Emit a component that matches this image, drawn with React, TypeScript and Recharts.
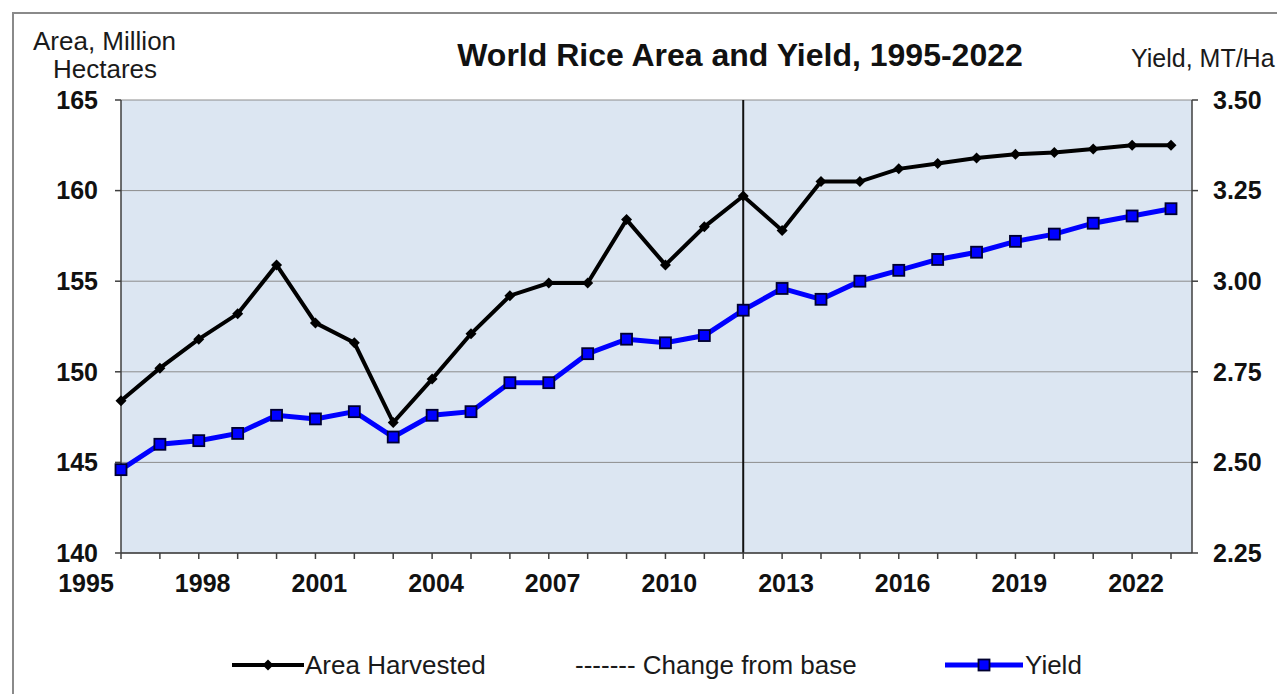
import React from "react";
import { ComposedChart, Line, XAxis, YAxis, CartesianGrid, ReferenceLine } from "recharts";

const YEARS = [
  1995, 1996, 1997, 1998, 1999, 2000, 2001, 2002, 2003, 2004, 2005, 2006, 2007, 2008,
  2009, 2010, 2011, 2012, 2013, 2014, 2015, 2016, 2017, 2018, 2019, 2020, 2021, 2022,
];
// million hectares
const AREA = [
  148.4, 150.2, 151.8, 153.2, 155.9, 152.7, 151.6, 147.2, 149.6, 152.1, 154.2, 154.9, 154.9, 158.4,
  155.9, 158.0, 159.7, 157.8, 160.5, 160.5, 161.2, 161.5, 161.8, 162.0, 162.1, 162.3, 162.5, 162.5,
];
// tonnes per hectare
const YIELD = [
  2.48, 2.55, 2.56, 2.58, 2.63, 2.62, 2.64, 2.57, 2.63, 2.64, 2.72, 2.72, 2.8, 2.84,
  2.83, 2.85, 2.92, 2.98, 2.95, 3.0, 3.03, 3.06, 3.08, 3.11, 3.13, 3.16, 3.18, 3.2,
];
const AREA_TICKS = [140, 145, 150, 155, 160, 165];
const YIELD_TICKS = [2.25, 2.5, 2.75, 3.0, 3.25, 3.5];
const BASE_YEAR = 2011;
const LABEL_EVERY = 3;

const FONT = '"Liberation Sans", Arial, Helvetica, sans-serif';
const AXIS = "#3f3f3f";

const rows = YEARS.map((year, i) => ({ year, area: AREA[i], yield: YIELD[i] }));

function YearTick(props: any) {
  const { x, y, payload, index } = props;
  if (index % LABEL_EVERY !== 0) return <g />;
  return (
    <text x={x - 35} y={y} dy={18} textAnchor="middle" fontFamily={FONT} fontSize={25} fontWeight={700} fill="#111">
      {payload.value}
    </text>
  );
}

function Diamond(p: any) {
  const r = 5.5;
  return (
    <path
      key={`d${p.index}`}
      d={`M${p.cx},${p.cy - r}L${p.cx + r},${p.cy}L${p.cx},${p.cy + r}L${p.cx - r},${p.cy}Z`}
      fill="#000"
    />
  );
}

function Square(p: any) {
  return (
    <rect
      key={`s${p.index}`}
      x={p.cx - 5.5}
      y={p.cy - 5.5}
      width={11}
      height={11}
      fill="#0000ff"
      stroke="#000030"
      strokeWidth={1.8}
    />
  );
}

const tickStyle = { fontSize: 25, fontWeight: 700, fill: "#111", fontFamily: FONT };

export default function App() {
  return (
    <div style={{ position: "relative", width: 1277, height: 686, fontFamily: FONT, color: "#1a1a1a" }}>
      <style>{`body{overflow:hidden}`}</style>
      <div
        style={{
          position: "absolute",
          left: 4,
          top: 4,
          width: 1280,
          height: 700,
          borderTop: "2px solid #8a8a8a",
          borderLeft: "2px solid #8a8a8a",
        }}
      />
      <div style={{ position: "absolute", left: 25, top: 20, fontSize: 26, lineHeight: 1, whiteSpace: "nowrap" }}>
        Area, Million
      </div>
      <div style={{ position: "absolute", left: 45, top: 48, fontSize: 26, lineHeight: 1, whiteSpace: "nowrap" }}>
        Hectares
      </div>
      <div
        style={{
          position: "absolute",
          left: 0,
          width: 1464,
          top: 31,
          textAlign: "center",
          fontSize: 32,
          fontWeight: 700,
          lineHeight: 1,
          color: "#111",
          whiteSpace: "nowrap",
        }}
      >
        World Rice Area and Yield, 1995-2022
      </div>
      <div style={{ position: "absolute", left: 1123, top: 38, fontSize: 25, lineHeight: 1, whiteSpace: "nowrap" }}>
        Yield, MT/Ha
      </div>

      <div style={{ position: "absolute", left: 0, top: 0 }}>
        <ComposedChart width={1277} height={686} data={rows} margin={{ top: 92, right: 23, bottom: 91, left: 53 }}>
          <CartesianGrid yAxisId="left" vertical={false} stroke="#8c8c8c" strokeWidth={1} fill="#dce6f2" />
          <XAxis
            dataKey="year"
            type="category"
            interval={0}
            padding={{ left: 0, right: 21 }}
            height={50}
            stroke={AXIS}
            strokeWidth={1.5}
            tickSize={6}
            tickMargin={15}
            tick={<YearTick />}
          />
          <YAxis
            yAxisId="left"
            orientation="left"
            domain={[140, 165]}
            ticks={AREA_TICKS}
            width={60}
            stroke={AXIS}
            strokeWidth={1.5}
            tickSize={6}
            tickMargin={17}
            tick={tickStyle}
          />
          <YAxis
            yAxisId="right"
            orientation="right"
            domain={[2.25, 3.5]}
            ticks={YIELD_TICKS}
            width={70}
            stroke={AXIS}
            strokeWidth={1.5}
            tickSize={6}
            tickMargin={15}
            tick={tickStyle}
            tickFormatter={(v) => Number(v).toFixed(2)}
          />
          <ReferenceLine yAxisId="left" x={BASE_YEAR} stroke="#111" strokeWidth={2} />
          <Line
            yAxisId="left"
            dataKey="area"
            stroke="#000"
            strokeWidth={4}
            dot={Diamond}
            activeDot={false}
            isAnimationActive={false}
          />
          <Line
            yAxisId="right"
            dataKey="yield"
            stroke="#0000ff"
            strokeWidth={5}
            dot={Square}
            activeDot={false}
            isAnimationActive={false}
          />
        </ComposedChart>
      </div>

      {/* legend */}
      <svg style={{ position: "absolute", left: 224, top: 647 }} width={72} height={20}>
        <line x1={0} y1={10} x2={72} y2={10} stroke="#000" strokeWidth={4} />
        <path d="M36,4.5L41.5,10L36,15.5L30.5,10Z" fill="#000" />
      </svg>
      <div style={{ position: "absolute", left: 297, top: 644, fontSize: 26, lineHeight: 1, whiteSpace: "nowrap" }}>
        Area Harvested
      </div>
      <div style={{ position: "absolute", left: 567, top: 644, fontSize: 26, lineHeight: 1, whiteSpace: "nowrap" }}>
        ------- Change from base
      </div>
      <svg style={{ position: "absolute", left: 937, top: 647 }} width={78} height={20}>
        <line x1={0} y1={10} x2={78} y2={10} stroke="#0000ff" strokeWidth={5} />
        <rect x={33.5} y={4.5} width={11} height={11} fill="#0000ff" stroke="#000030" strokeWidth={1.8} />
      </svg>
      <div style={{ position: "absolute", left: 1017, top: 644, fontSize: 26, lineHeight: 1, whiteSpace: "nowrap" }}>
        Yield
      </div>
    </div>
  );
}
